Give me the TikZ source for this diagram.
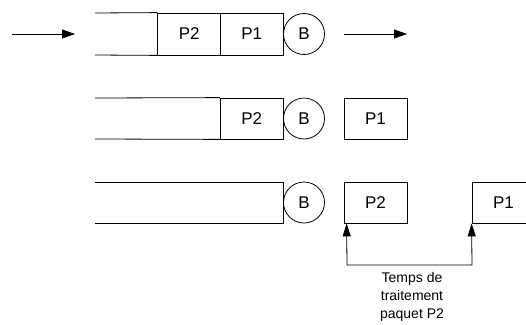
\documentclass[tikz,border=0pt]{standalone}
\usepackage{fontspec}
\setmainfont{Liberation Sans}
\usetikzlibrary{arrows.meta}
\begin{document}
\begin{tikzpicture}[x=1pt,y=-1pt,
  line width=0.8pt,
  cell/.style={draw,rectangle,minimum width=63pt,minimum height=42pt,inner sep=0pt,font=\fontsize{17}{19}\selectfont},
  srv/.style={draw,circle,minimum size=41pt,inner sep=0pt,font=\fontsize{17}{19}\selectfont},
  arr/.style={-{Triangle[length=13pt,width=9pt]}},
  lbl/.style={align=center,font=\fontsize{14}{18}\selectfont}]
\useasboundingbox (0,0) rectangle (526,324);
\clip (0,0) rectangle (526,324);
% Row 1
\coordinate (q1a) at (95,13);
\coordinate (q1b) at (95,55);
\node[cell] (r1p2) at (189.25,34) {P2};
\node[cell] (r1p1) at (251.75,34) {P1};
\node[srv] (r1b) at (304,34) {B};
\draw (q1a) -- (r1p2.north west);
\draw (q1b) -- (r1p2.south west);
\coordinate (in1) at (12,34);
\coordinate (in2) at (75,34);
\coordinate (out1) at (344,34);
\coordinate (out2) at (407,34);
\draw[arr] (in1) -- (in2);
\draw[arr] (out1) -- (out2);
% Row 2
\coordinate (q2a) at (95,98);
\coordinate (q2b) at (95,139);
\node[cell,minimum height=41pt] (r2p2) at (251.75,118.5) {P2};
\node[srv] (r2b) at (304,118.5) {B};
\node[cell,minimum height=41pt] (r2p1) at (375.5,118.5) {P1};
\draw (q2a) -- (r2p2.north west);
\draw (q2b) -- (r2p2.south west);
% Row 3
\coordinate (q3a) at (95,182);
\coordinate (q3b) at (95,223);
\coordinate (q3c) at (283.5,182);
\coordinate (q3d) at (283.5,223);
\node[srv] (r3b) at (304,202.5) {B};
\draw (q3a) -- (q3c) -- (q3d) -- (q3b);
\node[cell,minimum height=41pt] (r3p2) at (375.5,202.5) {P2};
\node[cell,minimum height=41pt] (r3p1) at (503.5,202.5) {P1};
% processing time bracket
\coordinate (bl) at (347,265);
\coordinate (br) at (472,265);
\draw[{Triangle[length=13pt,width=8pt]}-{Triangle[length=13pt,width=8pt]}]
  ([xshift=3pt]r3p2.south west) -- (bl) -- (br) -- (r3p1.south west);
\node[lbl] (txt) at (412,297) {Temps de\\traitement\\paquet P2};
\end{tikzpicture}
\end{document}
